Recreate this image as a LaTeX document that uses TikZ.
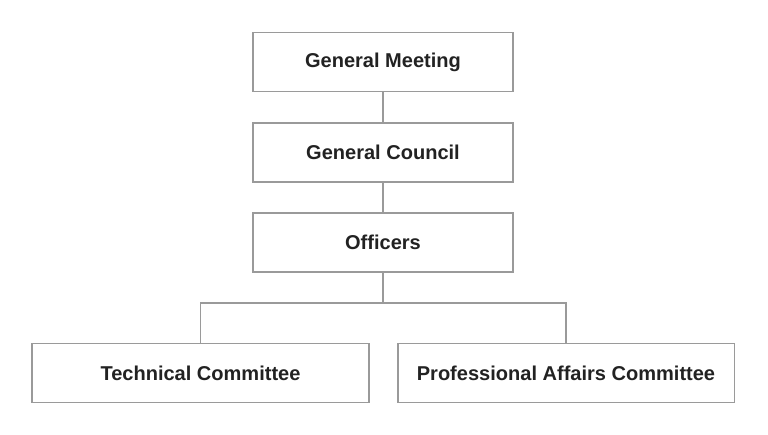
\documentclass[tikz,border=0pt]{standalone}
\usepackage{fontspec}
\setmainfont{Liberation Sans}
\usetikzlibrary{positioning}
\definecolor{boxedge}{HTML}{9A9A9A}
\definecolor{boxtext}{HTML}{222222}

\begin{document}
\begin{tikzpicture}[
  x=0.02cm, y=-0.02cm,
  unit/.style={rectangle, draw=boxedge, line width=1.1pt, fill=white,
               minimum width=5.2cm, minimum height=1.18cm, align=center,
               font=\bfseries\fontsize{11.4}{13}\selectfont, text=boxtext},
  cmte/.style={unit, minimum width=6.74cm},
  link/.style={draw=boxedge, line width=1.1pt},
]
\useasboundingbox (0,0) rectangle (768,435);
\node[unit] (meeting) at (383, 62) {General Meeting};
\node[unit] (council) at (383, 152.5) {General Council};
\node[unit] (officers) at (383, 242.5) {Officers};
\node[cmte] (technical) at (200.5, 373) {Technical Committee};
\node[cmte] (professional) at (566, 373) {Professional Affairs Committee};
% chain of command
\draw[link] (meeting.south) -- (council.north);
\draw[link] (council.south) -- (officers.north);
% split to the two committees
\coordinate (split) at (383, 303);
\draw[link] (officers.south) -- (split);
\draw[link] (split) -| (technical.north);
\draw[link] (split) -| (professional.north);
\end{tikzpicture}
\end{document}
